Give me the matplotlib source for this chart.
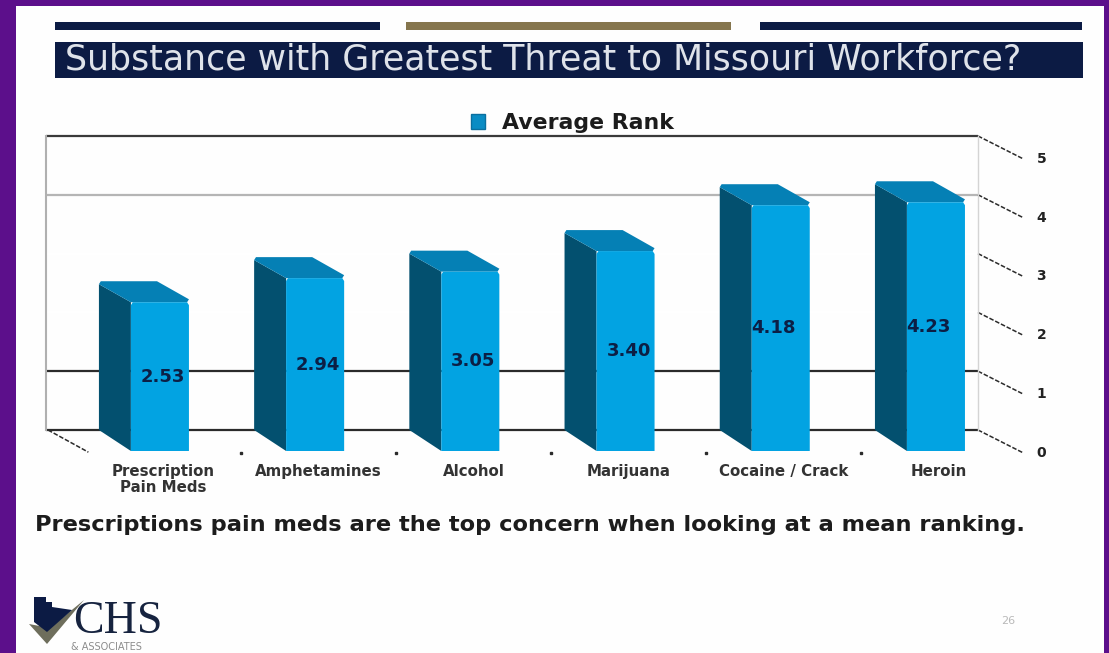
import matplotlib
matplotlib.use('Agg')
import matplotlib.pyplot as plt
from matplotlib.patches import Polygon, Patch, Rectangle

plt.rcParams['font.family'] = ['DejaVu Sans']

categories = ['Prescription\nPain Meds', 'Amphetamines', 'Alcohol', 'Marijuana', 'Cocaine / Crack', 'Heroin']
avg_rank = [2.53, 2.94, 3.05, 3.40, 4.18, 4.23]
levels = [0, 1, 2, 3, 4, 5]
level_colors = ['#2b2b2b', '#2b2b2b', '#ffffff', '#ffffff', '#b5b5b5', '#3a3a3a']

W, H = 1109, 653
PURPLE = '#5c0f8b'
NAVY = '#0c1b44'
GOLD = '#85754d'
FRONT = '#02a3e2'
SIDE = '#03506f'
TOP = '#0580b5'

fig = plt.figure(figsize=(W / 100, H / 100), dpi=100, facecolor=PURPLE)

# slide background and decorations, in pixel coordinates
bg = fig.add_axes([0, 0, 1, 1])
bg.set_xlim(0, W)
bg.set_ylim(H, 0)
bg.axis('off')
bg.add_patch(Rectangle((16, 6), 1088, H, color='#fefefe', lw=0))
for x0, x1, c in [(55, 380, NAVY), (406, 731, GOLD), (760, 1082, NAVY)]:
    bg.add_patch(Rectangle((x0, 22), x1 - x0, 8, color=c, lw=0))
bg.add_patch(Rectangle((55, 42), 1028, 36, color=NAVY, lw=0))
bg.text(65, 69.5, 'Substance with Greatest Threat to Missouri Workforce?', color='#dfe3ea',
        fontsize=25, va='baseline', ha='left')
bg.text(35, 531, 'Prescriptions pain meds are the top concern when looking at a mean ranking.',
        color='#1c1c1c', fontsize=16.2, fontweight='bold', va='baseline', ha='left')
bg.text(1008, 621, '26', color='#b9b9b9', fontsize=8, ha='center', va='center')

# logo
bg.add_patch(Polygon([(29, 624), (47, 644), (84, 600), (50, 628)], color='#6e6e5c', lw=0))
bg.add_patch(Polygon([(34, 597), (46, 597), (46, 602), (52, 602), (52, 607), (72, 610),
                      (47, 632), (34, 622)], color=NAVY, lw=0))
bg.text(73, 633, 'CHS', family=['Liberation Serif'], fontsize=33, color='#16233f', va='baseline', ha='left')
bg.text(71, 647, '& ASSOCIATES', fontsize=7, color='#8c8c8c', va='center', ha='left')

# chart, back wall spans 46-978 x 136-430 px
ax = fig.add_axes([46 / W, 1 - 430 / H, (978 - 46) / W, (430 - 136) / H], facecolor='none')
ax.set_xlim(-0.528, 5.477)
ax.set_ylim(0, 5)
ax.set_xticks([])
ax.set_yticks([])
for s in ['top', 'bottom']:
    ax.spines[s].set_visible(False)
ax.spines['left'].set_color('#b0b0b0')
ax.spines['left'].set_linewidth(1.5)
ax.spines['right'].set_color('#d4d4d4')
ax.spines['right'].set_linewidth(1)

bar_w = 0.374
dx = 0.206
dy = 0.357
# small chamfers so the bar corners are not razor sharp
cx = 0.012
cy = 0.05

for lev, c in zip(levels, level_colors):
    ax.plot([-0.528, 5.477], [lev, lev], color=c, lw=1.6, zorder=1, clip_on=False, solid_capstyle='butt')
    # dashed run out to the tick label
    ax.plot([5.477, 5.477 + 0.29], [lev, lev - dy - 0.03], color='#2b2b2b', lw=1.1, ls=(0, (3, 1.2)),
            clip_on=False, zorder=1)
    ax.text(5.885, lev - dy - 0.03, str(lev), fontsize=10, fontweight='bold', color='#222222',
            ha='center', va='center', clip_on=False)

# floor edge and the little marks between categories
ax.plot([-0.515, -0.515 + 0.26], [0, -dy - 0.02], color='#2b2b2b', lw=1.1, ls=(0, (3, 1.2)), clip_on=False)
for i in range(1, 6):
    ax.plot([i - 0.5 + dx + 0.02], [-dy - 0.04], marker='s', ms=2, color='#2b2b2b', clip_on=False)

for i, (cat, v) in enumerate(zip(categories, avg_rank)):
    l, r = i - bar_w / 2, i + bar_w / 2
    # dark left side, top face, then front face
    ax.add_patch(Polygon([(l, 0), (l + dx, -dy), (l + dx, v - dy), (l, v - cy)], color=SIDE, lw=0, zorder=3, clip_on=False))
    ax.add_patch(Polygon([(l, v - cy), (l + cx, v), (r, v), (r + dx, v - dy + cy), (r + dx - cx, v - dy),
                          (l + dx, v - dy)], color=TOP, lw=0, zorder=3, clip_on=False))
    ax.add_patch(Polygon([(l + dx, -dy), (r + dx, -dy), (r + dx, v - dy - cy), (r + dx - cx, v - dy), (l + dx + cx, v - dy),
                          (l + dx, v - dy - cy)], color=FRONT, lw=0, zorder=4, clip_on=False))
    shift = 0.02 if v < 4 else -0.05
    ax.text(i + dx + shift, v / 2 - dy, f'{v:.2f}', color='#0c1f45', fontsize=13, fontweight='bold',
            ha='center', va='center', zorder=5, clip_on=False)
    ax.text(i + dx + 0.02, -0.58, cat, color='#333333', fontsize=10.8, fontweight='bold', ha='center', va='top',
            linespacing=1.05, clip_on=False)

handle = Patch(facecolor='#0a8cc4', edgecolor='#0a6f9f', label='Average Rank')
ax.legend(handles=[handle], loc='center left', bbox_to_anchor=(0.456, 1.044), frameon=False, ncol=1,
          prop={'size': 15.8, 'weight': 'bold'}, handlelength=0.66, handleheight=0.66, handletextpad=0.74,
          borderaxespad=0, borderpad=0, labelcolor='#1c1c1c')

fig.savefig('out.png', dpi=100, facecolor=PURPLE)
